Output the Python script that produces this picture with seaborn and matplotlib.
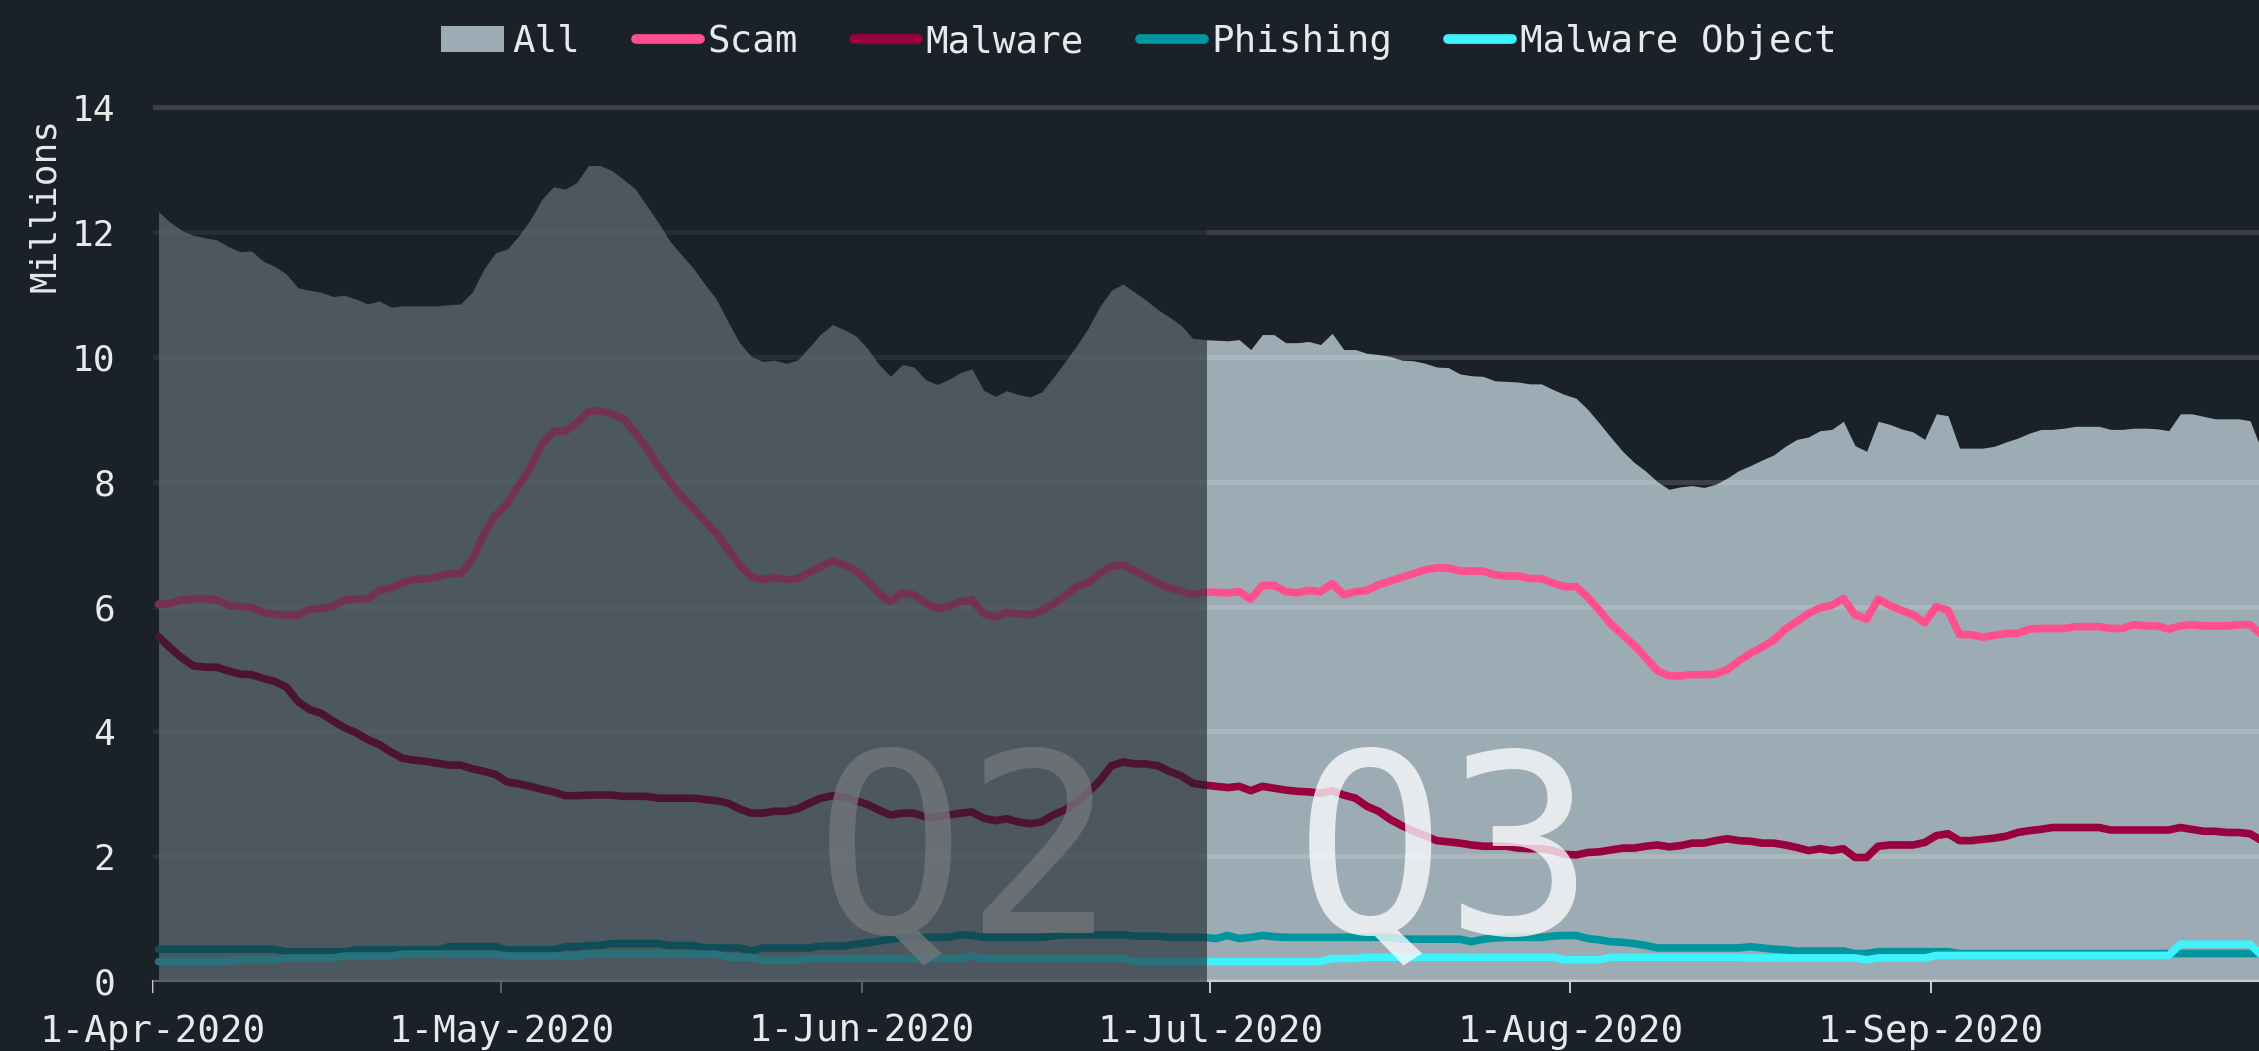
import pandas as pd
import matplotlib.pyplot as plt
import seaborn as sns
from matplotlib.patches import Patch
from matplotlib.lines import Line2D

# daily values in millions, 1-Apr-2020 .. 29-Sep-2020
all_values = [
    12.33, 12.16, 12.03, 11.95, 11.91, 11.88, 11.77, 11.69, 11.70, 11.54,
    11.45, 11.33, 11.11, 11.07, 11.04, 10.97, 10.99, 10.93, 10.85, 10.90,
    10.80, 10.82, 10.82, 10.82, 10.82, 10.84, 10.85, 11.04, 11.41, 11.67,
    11.73, 11.94, 12.20, 12.53, 12.73, 12.69, 12.80, 13.07, 13.07, 12.99,
    12.85, 12.70, 12.43, 12.16, 11.86, 11.64, 11.43, 11.17, 10.93, 10.57,
    10.23, 10.01, 9.93, 9.95, 9.90, 9.95, 10.16, 10.37, 10.52, 10.44,
    10.34, 10.14, 9.88, 9.69, 9.88, 9.84, 9.64, 9.56, 9.64, 9.75,
    9.81, 9.47, 9.37, 9.46, 9.40, 9.36, 9.44, 9.67, 9.92, 10.18,
    10.46, 10.81, 11.07, 11.17, 11.04, 10.91, 10.76, 10.64, 10.51, 10.30,
    10.28, 10.27, 10.26, 10.28, 10.12, 10.36, 10.36, 10.23, 10.23, 10.25,
    10.20, 10.38, 10.12, 10.12, 10.06, 10.04, 10.01, 9.95, 9.94, 9.90,
    9.84, 9.83, 9.73, 9.70, 9.69, 9.62, 9.61, 9.60, 9.57, 9.57,
    9.48, 9.40, 9.34, 9.16, 8.94, 8.71, 8.49, 8.31, 8.17, 8.00,
    7.88, 7.92, 7.94, 7.91, 7.96, 8.06, 8.18, 8.26, 8.35, 8.43,
    8.57, 8.68, 8.72, 8.82, 8.84, 8.97, 8.58, 8.49, 8.97, 8.92,
    8.85, 8.80, 8.68, 9.09, 9.06, 8.54, 8.54, 8.54, 8.57, 8.64,
    8.70, 8.78, 8.84, 8.84, 8.86, 8.89, 8.89, 8.89, 8.84, 8.84,
    8.86, 8.86, 8.85, 8.82, 9.09, 9.09, 9.05, 9.01, 9.01, 9.01,
    8.98, 8.50,
]

scam = [
    6.04, 6.05, 6.11, 6.12, 6.13, 6.11, 6.02, 6.00, 5.99, 5.91,
    5.88, 5.86, 5.86, 5.96, 5.97, 6.00, 6.11, 6.12, 6.13, 6.26,
    6.30, 6.38, 6.44, 6.44, 6.48, 6.53, 6.53, 6.75, 7.16, 7.46,
    7.65, 7.94, 8.22, 8.61, 8.81, 8.81, 8.94, 9.13, 9.14, 9.09,
    9.01, 8.79, 8.54, 8.25, 8.00, 7.77, 7.58, 7.37, 7.18, 6.92,
    6.67, 6.48, 6.43, 6.47, 6.43, 6.45, 6.55, 6.64, 6.73, 6.67,
    6.58, 6.41, 6.21, 6.08, 6.22, 6.19, 6.06, 5.97, 6.00, 6.08,
    6.11, 5.89, 5.83, 5.91, 5.88, 5.87, 5.94, 6.04, 6.17, 6.32,
    6.38, 6.54, 6.64, 6.67, 6.58, 6.48, 6.37, 6.30, 6.25, 6.19,
    6.23, 6.23, 6.22, 6.24, 6.12, 6.34, 6.34, 6.24, 6.22, 6.26,
    6.24, 6.37, 6.19, 6.24, 6.26, 6.35, 6.41, 6.47, 6.53, 6.59,
    6.62, 6.62, 6.57, 6.57, 6.57, 6.51, 6.49, 6.49, 6.45, 6.45,
    6.38, 6.32, 6.32, 6.15, 5.94, 5.72, 5.55, 5.38, 5.18, 4.97,
    4.89, 4.89, 4.91, 4.91, 4.92, 4.99, 5.13, 5.25, 5.35, 5.46,
    5.64, 5.76, 5.89, 5.98, 6.02, 6.13, 5.87, 5.80, 6.12, 6.02,
    5.94, 5.87, 5.74, 6.00, 5.94, 5.55, 5.55, 5.51, 5.54, 5.57,
    5.57, 5.64, 5.65, 5.65, 5.65, 5.68, 5.68, 5.68, 5.65, 5.65,
    5.71, 5.69, 5.69, 5.64, 5.69, 5.71, 5.69, 5.69, 5.69, 5.71,
    5.71, 5.55,
]

malware = [
    5.52, 5.34, 5.18, 5.05, 5.03, 5.03, 4.97, 4.92, 4.91, 4.85,
    4.80, 4.71, 4.48, 4.35, 4.29, 4.17, 4.06, 3.98, 3.87, 3.79,
    3.67, 3.57, 3.54, 3.52, 3.49, 3.46, 3.46, 3.40, 3.36, 3.31,
    3.19, 3.16, 3.12, 3.07, 3.03, 2.97, 2.97, 2.98, 2.98, 2.98,
    2.96, 2.96, 2.96, 2.93, 2.93, 2.93, 2.93, 2.91, 2.89, 2.85,
    2.76, 2.69, 2.69, 2.72, 2.72, 2.76, 2.85, 2.93, 2.97, 2.95,
    2.89, 2.83, 2.74, 2.66, 2.69, 2.69, 2.63, 2.63, 2.66, 2.69,
    2.71, 2.61, 2.57, 2.60, 2.55, 2.52, 2.55, 2.66, 2.74, 2.86,
    3.02, 3.21, 3.45, 3.51, 3.48, 3.48, 3.45, 3.36, 3.29, 3.17,
    3.14, 3.12, 3.10, 3.12, 3.05, 3.12, 3.09, 3.06, 3.04, 3.03,
    3.01, 3.05, 2.98, 2.93, 2.80, 2.72, 2.59, 2.49, 2.40, 2.33,
    2.25, 2.23, 2.21, 2.18, 2.16, 2.16, 2.16, 2.13, 2.12, 2.12,
    2.09, 2.03, 2.02, 2.06, 2.07, 2.10, 2.13, 2.13, 2.16, 2.18,
    2.15, 2.17, 2.21, 2.21, 2.25, 2.28, 2.25, 2.24, 2.21, 2.21,
    2.18, 2.14, 2.09, 2.12, 2.09, 2.12, 1.98, 1.98, 2.16, 2.18,
    2.18, 2.18, 2.22, 2.33, 2.36, 2.25, 2.25, 2.27, 2.29, 2.32,
    2.38, 2.41, 2.43, 2.46, 2.46, 2.46, 2.46, 2.46, 2.42, 2.42,
    2.42, 2.42, 2.42, 2.42, 2.46, 2.43, 2.40, 2.40, 2.38, 2.38,
    2.36, 2.25,
]

phishing = [
    0.51, 0.51, 0.51, 0.51, 0.51, 0.51, 0.51, 0.51, 0.51, 0.51,
    0.51, 0.47, 0.47, 0.47, 0.47, 0.47, 0.47, 0.50, 0.50, 0.50,
    0.50, 0.50, 0.50, 0.50, 0.50, 0.55, 0.55, 0.55, 0.55, 0.55,
    0.50, 0.50, 0.50, 0.50, 0.50, 0.55, 0.55, 0.57, 0.57, 0.60,
    0.60, 0.60, 0.60, 0.60, 0.57, 0.57, 0.57, 0.53, 0.53, 0.53,
    0.53, 0.48, 0.53, 0.53, 0.53, 0.53, 0.53, 0.56, 0.56, 0.56,
    0.59, 0.61, 0.64, 0.67, 0.70, 0.70, 0.70, 0.70, 0.70, 0.74,
    0.73, 0.70, 0.70, 0.70, 0.70, 0.70, 0.70, 0.72, 0.74, 0.74,
    0.74, 0.74, 0.74, 0.74, 0.72, 0.72, 0.72, 0.70, 0.70, 0.70,
    0.70, 0.68, 0.73, 0.68, 0.70, 0.73, 0.71, 0.70, 0.70, 0.70,
    0.70, 0.70, 0.70, 0.70, 0.70, 0.70, 0.70, 0.67, 0.67, 0.67,
    0.67, 0.67, 0.67, 0.63, 0.67, 0.69, 0.70, 0.70, 0.70, 0.70,
    0.72, 0.73, 0.73, 0.68, 0.66, 0.63, 0.62, 0.60, 0.57, 0.53,
    0.53, 0.53, 0.53, 0.53, 0.53, 0.53, 0.53, 0.55, 0.53, 0.51,
    0.50, 0.48, 0.48, 0.48, 0.48, 0.48, 0.44, 0.44, 0.47, 0.47,
    0.47, 0.47, 0.47, 0.47, 0.47, 0.44, 0.44, 0.44, 0.44, 0.44,
    0.44, 0.44, 0.44, 0.44, 0.44, 0.44, 0.44, 0.44, 0.44, 0.44,
    0.44, 0.44, 0.44, 0.44, 0.44, 0.44, 0.44, 0.44, 0.44, 0.44,
    0.44, 0.44,
]

malware_object = [
    0.31, 0.31, 0.31, 0.31, 0.31, 0.31, 0.31, 0.34, 0.34, 0.34,
    0.34, 0.37, 0.37, 0.37, 0.37, 0.37, 0.40, 0.40, 0.40, 0.40,
    0.40, 0.43, 0.43, 0.43, 0.43, 0.43, 0.43, 0.43, 0.43, 0.43,
    0.40, 0.40, 0.40, 0.40, 0.40, 0.40, 0.40, 0.43, 0.43, 0.43,
    0.43, 0.43, 0.43, 0.43, 0.43, 0.43, 0.43, 0.43, 0.43, 0.38,
    0.38, 0.38, 0.33, 0.33, 0.33, 0.33, 0.36, 0.36, 0.36, 0.36,
    0.36, 0.36, 0.36, 0.36, 0.36, 0.36, 0.36, 0.36, 0.36, 0.36,
    0.40, 0.36, 0.36, 0.36, 0.36, 0.36, 0.36, 0.36, 0.36, 0.36,
    0.36, 0.36, 0.36, 0.36, 0.31, 0.31, 0.31, 0.31, 0.31, 0.31,
    0.31, 0.31, 0.31, 0.31, 0.31, 0.31, 0.31, 0.31, 0.31, 0.31,
    0.31, 0.36, 0.36, 0.36, 0.38, 0.38, 0.38, 0.38, 0.38, 0.38,
    0.38, 0.38, 0.38, 0.38, 0.38, 0.38, 0.38, 0.38, 0.38, 0.38,
    0.38, 0.34, 0.34, 0.34, 0.34, 0.38, 0.38, 0.38, 0.38, 0.38,
    0.38, 0.38, 0.38, 0.38, 0.38, 0.38, 0.38, 0.37, 0.37, 0.37,
    0.37, 0.37, 0.37, 0.37, 0.37, 0.37, 0.37, 0.34, 0.37, 0.37,
    0.37, 0.37, 0.37, 0.41, 0.41, 0.41, 0.41, 0.41, 0.41, 0.41,
    0.41, 0.41, 0.41, 0.41, 0.41, 0.41, 0.41, 0.41, 0.41, 0.41,
    0.41, 0.41, 0.41, 0.41, 0.59, 0.59, 0.59, 0.59, 0.59, 0.59,
    0.59, 0.41,
]

series_names = ['Scam', 'Malware', 'Phishing', 'Malware Object']
series_colors = ['#ff4f8d', '#99003f', '#0096a0', '#40f2fc']

tick_dates = ['2020-04-01', '2020-05-01', '2020-06-01',
              '2020-07-01', '2020-08-01', '2020-09-01']
tick_labels = ['1-Apr-2020', '1-May-2020', '1-Jun-2020',
               '1-Jul-2020', '1-Aug-2020', '1-Sep-2020']
y_ticks = [0, 2, 4, 6, 8, 10, 12, 14]

BG = '#1b2129'
AREA = '#9dacb4'
TEXT = '#e6eaea'
AXIS = '#c8ccd0'

# points sit at midday of each date
dates = pd.date_range('2020-04-01 12:00', periods=len(all_values), freq='D')

long_df = pd.concat([
    pd.DataFrame({'date': dates, 'value': vals, 'series': name})
    for name, vals in zip(series_names, [scam, malware, phishing, malware_object])
], ignore_index=True)

sns.set_theme(style='dark', rc={
    'figure.facecolor': BG,
    'axes.facecolor': BG,
    'savefig.facecolor': BG,
    'axes.axisbelow': 'line',
})
plt.rcParams['font.family'] = ['DejaVu Sans Mono', 'DejaVu Sans']

fig = plt.figure(figsize=(22.59, 10.51), dpi=100)
ax = fig.add_axes([0.0676, 0.0666, 0.9324, 0.8371])

# total volume as a filled area
ax.fill_between(dates, all_values, color=AREA, lw=0, zorder=1)

sns.lineplot(data=long_df, x='date', y='value', hue='series',
             hue_order=series_names, palette=series_colors,
             linewidth=5.5, legend=False, ax=ax, zorder=3)
for ln in ax.lines:
    ln.set_solid_capstyle('round')
    ln.set_solid_joinstyle('round')

x0 = pd.Timestamp('2020-04-01')
ax.set_xlim(x0, x0 + pd.Timedelta(days=181.27))
ax.set_ylim(0, 14.1)

ax.grid(axis='y', color='white', alpha=0.14, linewidth=3.6)
ax.grid(axis='x', visible=False)

ax.set_xticks(pd.to_datetime(tick_dates))
ax.set_xticklabels(tick_labels)
ax.set_yticks(y_ticks)
ax.set_yticklabels([str(v) for v in y_ticks])
ax.tick_params(axis='x', length=8.6, width=1.4, color=AXIS, pad=15,
               labelsize=27, labelcolor=TEXT, bottom=True)
ax.tick_params(axis='y', length=0, pad=27, labelsize=26, labelcolor=TEXT)

for side in ['top', 'right', 'left']:
    ax.spines[side].set_visible(False)
ax.spines['bottom'].set_color(AXIS)
ax.spines['bottom'].set_linewidth(1.5)

ax.set_xlabel('')
ax.set_ylabel('Millions', fontsize=26, color=TEXT)
ax.yaxis.set_label_coords(-0.043, 0.882)

# quarter labels
ax.text(pd.Timestamp('2020-06-09 22:00'), 0.77, 'Q2', fontsize=180,
        color='white', alpha=0.76, ha='center', va='baseline', zorder=4)
ax.text(pd.Timestamp('2020-07-21 05:00'), 0.77, 'Q3', fontsize=180,
        color='white', alpha=0.76, ha='center', va='baseline', zorder=4)

# dim the second quarter
ax.axvspan(x0, pd.Timestamp('2020-06-30 18:00'), ymin=-0.25 / 14.1,
           ymax=13.5 / 14.1, color=BG, alpha=0.61, lw=0, zorder=5,
           clip_on=False)

handles = [Patch(facecolor=AREA, edgecolor='none')] + [
    Line2D([0], [0], color=c, lw=7, solid_capstyle='round')
    for c in series_colors
]
leg = fig.legend(handles, ['All'] + series_names, loc='center',
                 bbox_to_anchor=(0.504, 0.96), ncol=5, frameon=False,
                 fontsize=27, handlelength=1.7, handletextpad=0.2,
                 columnspacing=1.5)
for t in leg.get_texts():
    t.set_color(TEXT)

fig.savefig('out.png', dpi=100)
